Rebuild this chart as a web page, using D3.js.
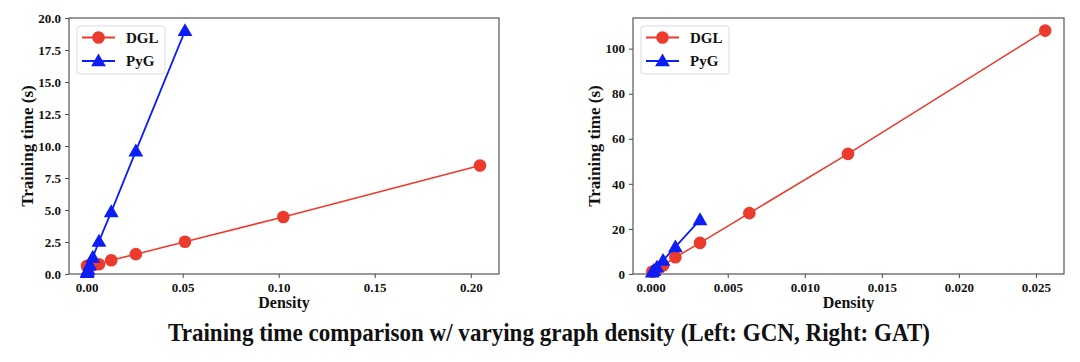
<!DOCTYPE html>
<html>
<head>
<meta charset="utf-8">
<script src="https://cdn.jsdelivr.net/npm/d3@7"></script>
<style>
  body { margin: 0; background: #fff; }
  svg { display: block; }
  text { font-family: "Liberation Serif", "Times New Roman", Times, serif; font-weight: bold; fill: #111; }
</style>
</head>
<body>
<div id="vis"></div>
<script>
// left panel (GCN)
var gcnDglDensity = [0.0002, 0.0004, 0.0008, 0.0016, 0.0032, 0.0064, 0.0128, 0.0256, 0.0512, 0.1024, 0.2048];
var gcnDglTime = [0.62, 0.62, 0.64, 0.66, 0.70, 0.76, 1.08, 1.55, 2.52, 4.45, 8.48];
var gcnPygDensity = [0.0002, 0.0004, 0.0008, 0.0016, 0.0032, 0.0064, 0.0128, 0.0256, 0.0512];
var gcnPygTime = [0.1, 0.2, 0.35, 0.7, 1.3, 2.55, 4.85, 9.6, 19.0];
var gcnXTicks = [0.00, 0.05, 0.10, 0.15, 0.20];
var gcnYTicks = [0, 2.5, 5, 7.5, 10, 12.5, 15, 17.5, 20];

// right panel (GAT)
var gatDglDensity = [0.0001, 0.0002, 0.0004, 0.0008, 0.0016, 0.0032, 0.0064, 0.0128, 0.0256];
var gatDglTime = [1.0, 1.2, 2.0, 3.8, 7.4, 13.8, 27.0, 53.3, 108.0];
var gatPygDensity = [0.0001, 0.0002, 0.0004, 0.0008, 0.0016, 0.0032];
var gatPygTime = [0.8, 1.5, 3.0, 6.0, 12.0, 24.0];
var gatXTicks = [0.000, 0.005, 0.010, 0.015, 0.020, 0.025];
var gatYTicks = [0, 20, 40, 60, 80, 100];

var seriesNames = ['DGL', 'PyG'];
var titleText = 'Training time comparison w/ varying graph density (Left: GCN, Right: GAT)';

var red = '#ec3a2d';
var blue = '#0a1ef5';
var axisColor = '#555';

var svg = d3.select('#vis').append('svg')
  .attr('width', 1080)
  .attr('height', 362);

function zip(xs, ys) {
  return xs.map((x, i) => ({x: x, y: ys[i]}));
}

function drawPanel(opts) {
  var x = d3.scaleLinear().domain(opts.xDomain).range([opts.left, opts.right]);
  var y = d3.scaleLinear().domain(opts.yDomain).range([opts.bottom, opts.top]);
  var g = svg.append('g');

  // frame
  g.append('rect')
    .attr('x', opts.left)
    .attr('y', opts.top)
    .attr('width', opts.right - opts.left)
    .attr('height', opts.bottom - opts.top)
    .attr('fill', 'none')
    .attr('stroke', axisColor)
    .attr('stroke-width', 1.2);

  var xAxis = g.append('g')
    .attr('transform', `translate(0,${opts.bottom})`)
    .call(d3.axisBottom(x).tickValues(opts.xTicks).tickFormat(d3.format(opts.xFmt)).tickSizeOuter(0).tickSize(4).tickPadding(5));
  var yAxis = g.append('g')
    .attr('transform', `translate(${opts.left},0)`)
    .call(d3.axisLeft(y).tickValues(opts.yTicks).tickFormat(d3.format(opts.yFmt)).tickSizeOuter(0).tickSize(4).tickPadding(4));
  [xAxis, yAxis].forEach(a => {
    a.select('.domain').remove();
    a.selectAll('line').attr('stroke', axisColor).attr('stroke-width', 1.1);
    a.selectAll('text')
      .style('font-family', '"Liberation Serif", "Times New Roman", serif')
      .style('font-weight', 'bold')
      .style('font-size', '13px')
      .attr('fill', '#222');
  });

  // axis labels
  g.append('text')
    .attr('x', (opts.left + opts.right) / 2)
    .attr('y', opts.bottom + 34)
    .attr('text-anchor', 'middle')
    .style('font-size', '16px')
    .text('Density');
  g.append('text')
    .attr('transform', `translate(${opts.yLabelX},${(opts.top + opts.bottom) / 2}) rotate(-90)`)
    .attr('text-anchor', 'middle')
    .style('font-size', '17px')
    .text('Training time (s)');

  var line = d3.line().x(d => x(d.x)).y(d => y(d.y));
  var tri = d3.symbol().type(d3.symbolTriangle).size(95);

  // DGL
  var dgl = zip(opts.dgl[0], opts.dgl[1]);
  g.append('path').datum(dgl)
    .attr('d', line).attr('fill', 'none').attr('stroke', red).attr('stroke-width', 1.6);
  g.selectAll('.dgl').data(dgl).enter().append('circle')
    .attr('class', 'dgl')
    .attr('cx', d => x(d.x)).attr('cy', d => y(d.y))
    .attr('r', 6.3).attr('fill', red);

  // PyG
  var pyg = zip(opts.pyg[0], opts.pyg[1]);
  g.append('path').datum(pyg)
    .attr('d', line).attr('fill', 'none').attr('stroke', blue).attr('stroke-width', 1.8);
  g.selectAll('.pyg').data(pyg).enter().append('path')
    .attr('class', 'pyg')
    .attr('d', tri)
    .attr('transform', d => `translate(${x(d.x)},${y(d.y) + 1})`)
    .attr('fill', blue);

  // legend
  var lx = opts.left + 8;
  var ly = opts.top + 8;
  var leg = g.append('g');
  leg.append('rect')
    .attr('x', lx).attr('y', ly).attr('width', 88).attr('height', 48).attr('rx', 3)
    .attr('fill', '#fff').attr('stroke', '#ddd').attr('stroke-width', 1);
  seriesNames.forEach((name, i) => {
    var cy = ly + 11.5 + i * 23.5;
    var c = i === 0 ? red : blue;
    leg.append('line')
      .attr('x1', lx + 5).attr('x2', lx + 38).attr('y1', cy).attr('y2', cy)
      .attr('stroke', c).attr('stroke-width', 1.8);
    if (i === 0) {
      leg.append('circle').attr('cx', lx + 21.5).attr('cy', cy).attr('r', 6.3).attr('fill', c);
    } else {
      leg.append('path').attr('d', tri).attr('transform', `translate(${lx + 21.5},${cy + 1})`).attr('fill', c);
    }
    leg.append('text')
      .attr('x', lx + 49).attr('y', cy + 5)
      .style('font-size', '15px')
      .text(name);
  });
}

drawPanel({
  left: 69, right: 499, top: 18, bottom: 274,
  xDomain: [-0.0092, 0.2147], yDomain: [0, 20],
  xTicks: gcnXTicks, yTicks: gcnYTicks, xFmt: '.2f', yFmt: '.1f',
  yLabelX: 33,
  dgl: [gcnDglDensity, gcnDglTime],
  pyg: [gcnPygDensity, gcnPygTime]
});

drawPanel({
  left: 633, right: 1064, top: 18, bottom: 274,
  xDomain: [-0.00115, 0.02682], yDomain: [0, 113.6],
  xTicks: gatXTicks, yTicks: gatYTicks, xFmt: '.3f', yFmt: 'd',
  yLabelX: 600,
  dgl: [gatDglDensity, gatDglTime],
  pyg: [gatPygDensity, gatPygTime]
});

svg.append('text')
  .attr('x', 549)
  .attr('y', 341)
  .attr('text-anchor', 'middle')
  .attr('textLength', 762)
  .attr('lengthAdjust', 'spacingAndGlyphs')
  .style('font-size', '25px')
  .text(titleText);
</script>
</body>
</html>
